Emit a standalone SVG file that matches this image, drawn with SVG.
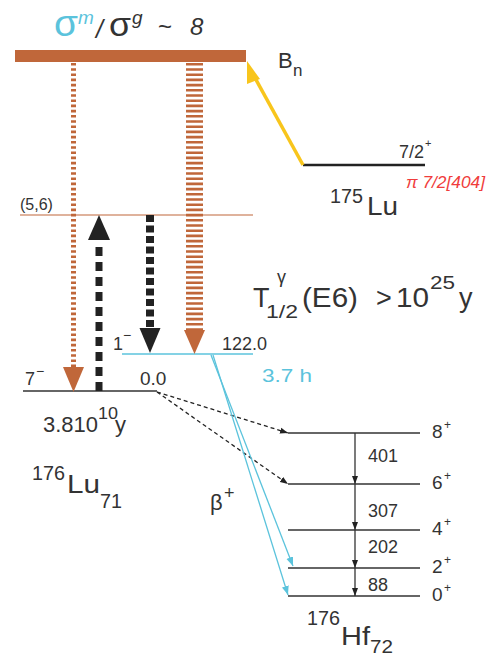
<svg xmlns="http://www.w3.org/2000/svg" width="487" height="657" viewBox="0 0 487 657">
<style>
text{font-family:"Liberation Sans",Arial,sans-serif;fill:#333}
.cy{fill:#5bc3dc}
.red{fill:#f03c3c;font-style:italic}
.it{font-style:italic}
.lvl{stroke:#333;stroke-width:1.4;fill:none}
.br{fill:#c0673a}
</style>
<defs>
<marker id="ak" markerUnits="userSpaceOnUse" markerWidth="9" markerHeight="7" refX="8" refY="3.5" orient="auto"><path d="M0,0.5 L8,3.5 L0,6.5 z" fill="#222"/></marker>
<marker id="ac" markerUnits="userSpaceOnUse" markerWidth="10" markerHeight="8" refX="9" refY="4" orient="auto"><path d="M0,0.5 L9,4 L0,7.5 z" fill="#5bc3dc"/></marker>
</defs>

<g id="title">
<text x="54" y="36" font-size="36" class="cy" textLength="24" lengthAdjust="spacingAndGlyphs">σ</text>
<text x="78" y="24" font-size="19" class="cy it">m</text>
<text x="96" y="38" font-size="25" class="it">/</text>
<text x="109" y="36" font-size="34" textLength="22" lengthAdjust="spacingAndGlyphs">σ</text>
<text x="132" y="24" font-size="19" class="it">g</text>
<text x="158" y="35" font-size="24">~</text>
<text x="190" y="35" font-size="24" class="it">8</text>
</g>

<g id="capture-state">
<rect x="15" y="50" width="231" height="12" class="br"/>
<text x="278" y="68" font-size="22">B</text>
<text x="293" y="76" font-size="17">n</text>
</g>

<g id="lu175">
<line x1="303" y1="165" x2="425" y2="165" stroke="#222" stroke-width="2.7"/>
<text x="399" y="158" font-size="18">7/2</text>
<text x="425" y="147" font-size="11">+</text>
<text x="406" y="188" font-size="17" class="red" textLength="79" lengthAdjust="spacingAndGlyphs">π 7/2[404]</text>
<text x="330" y="203" font-size="20" textLength="33" lengthAdjust="spacingAndGlyphs">175</text>
<text x="367" y="215" font-size="25" textLength="31" lengthAdjust="spacingAndGlyphs">Lu</text>
</g>

<g id="level-56">
<line x1="20" y1="215" x2="253" y2="215" stroke="#c0673a" stroke-width="1.2"/>
<text x="20" y="210" font-size="16">(5,6)</text>
</g>

<g id="level-1minus">
<line x1="122" y1="354" x2="253" y2="354" stroke="#5bc3dc" stroke-width="1.5"/>
<text x="113" y="350" font-size="18">1</text>
<text x="123" y="340" font-size="14">−</text>
<text x="222" y="350" font-size="18">122.0</text>
<text x="262" y="382" font-size="19" class="cy" textLength="50" lengthAdjust="spacingAndGlyphs">3.7 h</text>
</g>

<g id="level-7minus">
<line x1="23" y1="391" x2="157" y2="391" stroke="#333" stroke-width="1.5"/>
<text x="25" y="385" font-size="18">7</text>
<text x="36" y="376" font-size="14">−</text>
<text x="140" y="385" font-size="19">0.0</text>
<text x="43" y="432" font-size="22" textLength="55" lengthAdjust="spacingAndGlyphs">3.810</text>
<text x="98" y="419" font-size="17" textLength="20" lengthAdjust="spacingAndGlyphs">10</text>
<text x="115" y="432" font-size="22">y</text>
<text x="32" y="480" font-size="20" textLength="33" lengthAdjust="spacingAndGlyphs">176</text>
<text x="67" y="493" font-size="25" textLength="33" lengthAdjust="spacingAndGlyphs">Lu</text>
<text x="100" y="508" font-size="20" textLength="22" lengthAdjust="spacingAndGlyphs">71</text>
</g>

<g id="halflife-e6">
<text x="253" y="307" font-size="27">T</text>
<text x="277" y="283" font-size="18">γ</text>
<text x="266" y="318" font-size="19" textLength="32" lengthAdjust="spacingAndGlyphs">1/2</text>
<text x="302" y="307" font-size="27" textLength="56" lengthAdjust="spacingAndGlyphs">(E6)</text>
<text x="376" y="307" font-size="27">&gt;</text>
<text x="396" y="307" font-size="27" textLength="33" lengthAdjust="spacingAndGlyphs">10</text>
<text x="430" y="289" font-size="19" textLength="25" lengthAdjust="spacingAndGlyphs">25</text>
<text x="459" y="307" font-size="27">y</text>
</g>

<g id="beta">
<text x="210" y="510" font-size="22">β</text>
<text x="224" y="499" font-size="18">+</text>
</g>

<g id="hf176">
<line x1="288" y1="433" x2="420" y2="433" class="lvl"/>
<line x1="288" y1="484" x2="420" y2="484" class="lvl"/>
<line x1="288" y1="530" x2="420" y2="530" class="lvl"/>
<line x1="288" y1="568" x2="420" y2="568" class="lvl"/>
<line x1="288" y1="596" x2="420" y2="596" class="lvl"/>
<text x="432" y="438" font-size="19">8</text><text x="444" y="429" font-size="12">+</text>
<text x="432" y="489" font-size="19">6</text><text x="444" y="480" font-size="12">+</text>
<text x="432" y="535" font-size="19">4</text><text x="444" y="526" font-size="12">+</text>
<text x="432" y="573" font-size="19">2</text><text x="444" y="564" font-size="12">+</text>
<text x="432" y="601" font-size="19">0</text><text x="444" y="592" font-size="12">+</text>
<text x="368" y="462" font-size="18" textLength="30" lengthAdjust="spacingAndGlyphs">401</text>
<text x="368" y="517" font-size="18" textLength="30" lengthAdjust="spacingAndGlyphs">307</text>
<text x="368" y="553" font-size="18" textLength="30" lengthAdjust="spacingAndGlyphs">202</text>
<text x="368" y="591" font-size="18" textLength="20" lengthAdjust="spacingAndGlyphs">88</text>
<text x="307" y="625" font-size="20" textLength="33" lengthAdjust="spacingAndGlyphs">176</text>
<text x="341" y="645" font-size="26" textLength="29" lengthAdjust="spacingAndGlyphs">Hf</text>
<text x="370" y="653" font-size="19" textLength="23" lengthAdjust="spacingAndGlyphs">72</text>
</g>

<g id="connectors">
<line x1="303" y1="165" x2="254" y2="76" stroke="#f8c51c" stroke-width="3.5"/>
<path d="M247,61 L260,79 L247,84 z" fill="#f8c51c"/>
<line x1="73.5" y1="63" x2="73.5" y2="368" stroke="#c0673a" stroke-width="5" stroke-dasharray="2.6 2.6"/>
<path d="M63,367 L84,367 L73.5,392 z" class="br"/>
<line x1="194.5" y1="63" x2="194.5" y2="331" stroke="#c0673a" stroke-width="17" stroke-dasharray="2.6 2.6"/>
<path d="M184,330 L205,330 L194.5,354 z" class="br"/>
<line x1="99" y1="391" x2="99" y2="241" stroke="#222" stroke-width="7" stroke-dasharray="9 6"/>
<path d="M88,240 L110,240 L99,215 z" fill="#222"/>
<line x1="150" y1="215" x2="150" y2="329" stroke="#222" stroke-width="8" stroke-dasharray="7 3.5"/>
<path d="M139.5,328 L160.5,328 L150,353 z" fill="#222"/>
<line x1="157" y1="392" x2="288" y2="433" stroke="#222" stroke-width="1.3" stroke-dasharray="4 3" marker-end="url(#ak)"/>
<line x1="157" y1="392" x2="288" y2="484" stroke="#222" stroke-width="1.3" stroke-dasharray="4 3" marker-end="url(#ak)"/>
<line x1="211" y1="355" x2="293" y2="566" stroke="#5bc3dc" stroke-width="1.3" marker-end="url(#ac)"/>
<line x1="213" y1="355" x2="288" y2="595" stroke="#5bc3dc" stroke-width="1.3" marker-end="url(#ac)"/>
<line x1="355" y1="433" x2="355" y2="484" stroke="#333" stroke-width="1.3" marker-end="url(#ak)"/>
<line x1="355" y1="484" x2="355" y2="530" stroke="#333" stroke-width="1.3" marker-end="url(#ak)"/>
<line x1="355" y1="530" x2="355" y2="568" stroke="#333" stroke-width="1.3" marker-end="url(#ak)"/>
<line x1="355" y1="568" x2="355" y2="596" stroke="#333" stroke-width="1.3" marker-end="url(#ak)"/>
</g>
</svg>
